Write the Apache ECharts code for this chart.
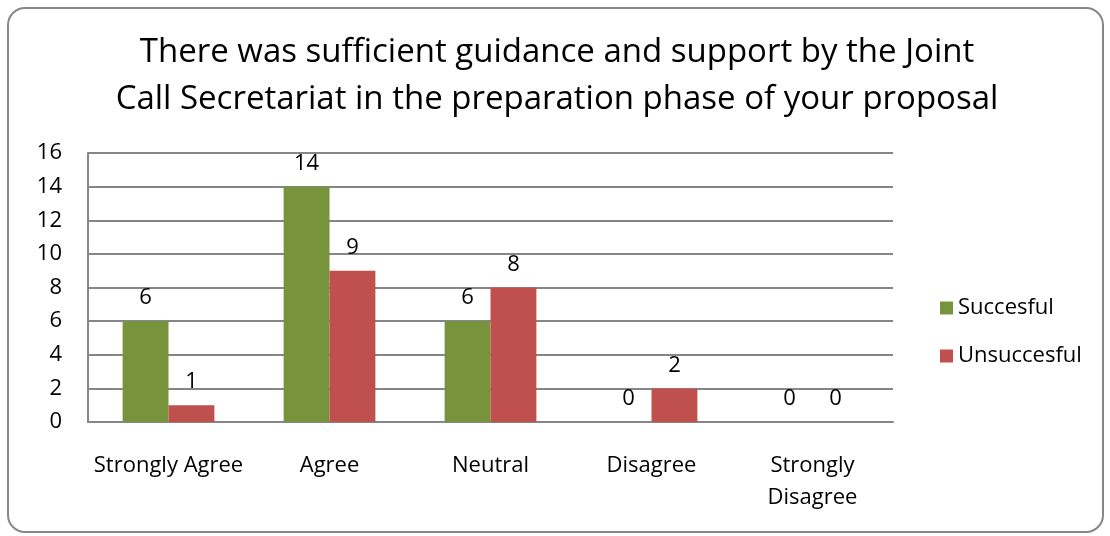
<!DOCTYPE html>
<html><head><meta charset="utf-8">
<script src="https://cdn.jsdelivr.net/npm/echarts@6/dist/echarts.min.js"></script>
<style>
html,body{margin:0;padding:0;background:#fff;}
#frame{position:absolute;left:7px;top:7px;width:1097px;height:526px;border:2px solid #878787;border-radius:18px;box-sizing:border-box;}
#c{position:absolute;left:0;top:0;width:1110px;height:536px;}
</style></head>
<body>
<div id="frame"></div>
<div id="c"></div>
<script>
const categories = ['Strongly Agree', 'Agree', 'Neutral', 'Disagree', 'Strongly\nDisagree'];
const succesful = [6, 14, 6, 0, 0];
const unsuccesful = [1, 9, 8, 2, 0];
const seriesNames = ['Succesful', 'Unsuccesful'];
const titleText = 'There was sufficient guidance and support by the Joint\nCall Secretariat in the preparation phase of your proposal';

const font = "'Open Sans', 'Noto Sans', sans-serif";
const chart = echarts.init(document.getElementById('c'), null, {renderer: 'canvas'});
chart.setOption({
  animation: false,
  textStyle: {fontFamily: font},
  title: {
    text: titleText, left: 552, top: 24, textAlign: 'center',
    textStyle: {fontFamily: font, fontSize: 33, fontWeight: 'normal', color: '#000', lineHeight: 47}
  },
  legend: {
    orient: 'vertical', left: 935, top: 292, itemWidth: 13, itemHeight: 13, itemGap: 26,
    icon: 'rect',
    textStyle: {fontFamily: font, fontSize: 22, color: '#000'},
    data: seriesNames
  },
  grid: {left: 88, top: 153, right: 217, bottom: 114},
  xAxis: {
    type: 'category', data: categories,
    axisLine: {lineStyle: {color: '#868686', width: 2}},
    axisTick: {show: false},
    axisLabel: {fontFamily: font, fontSize: 22, color: '#000', margin: 28, lineHeight: 32, interval: 0}
  },
  yAxis: {
    type: 'value', min: 0, max: 16, interval: 2,
    axisLine: {show: true, lineStyle: {color: '#868686', width: 2}},
    axisTick: {show: false},
    splitLine: {lineStyle: {color: '#868686', width: 2}},
    axisLabel: {fontFamily: font, fontSize: 22, color: '#000', margin: 26}
  },
  series: [
    {name: seriesNames[0], type: 'bar', data: succesful, barGap: '0%', barCategoryGap: '43%',
     itemStyle: {color: '#77933C'},
     label: {show: true, position: 'top', distance: 12, fontFamily: font, fontSize: 22, color: '#000'}},
    {name: seriesNames[1], type: 'bar', data: unsuccesful,
     itemStyle: {color: '#C0504D'},
     label: {show: true, position: 'top', distance: 12, fontFamily: font, fontSize: 22, color: '#000'}}
  ]
});
</script>
</body></html>
